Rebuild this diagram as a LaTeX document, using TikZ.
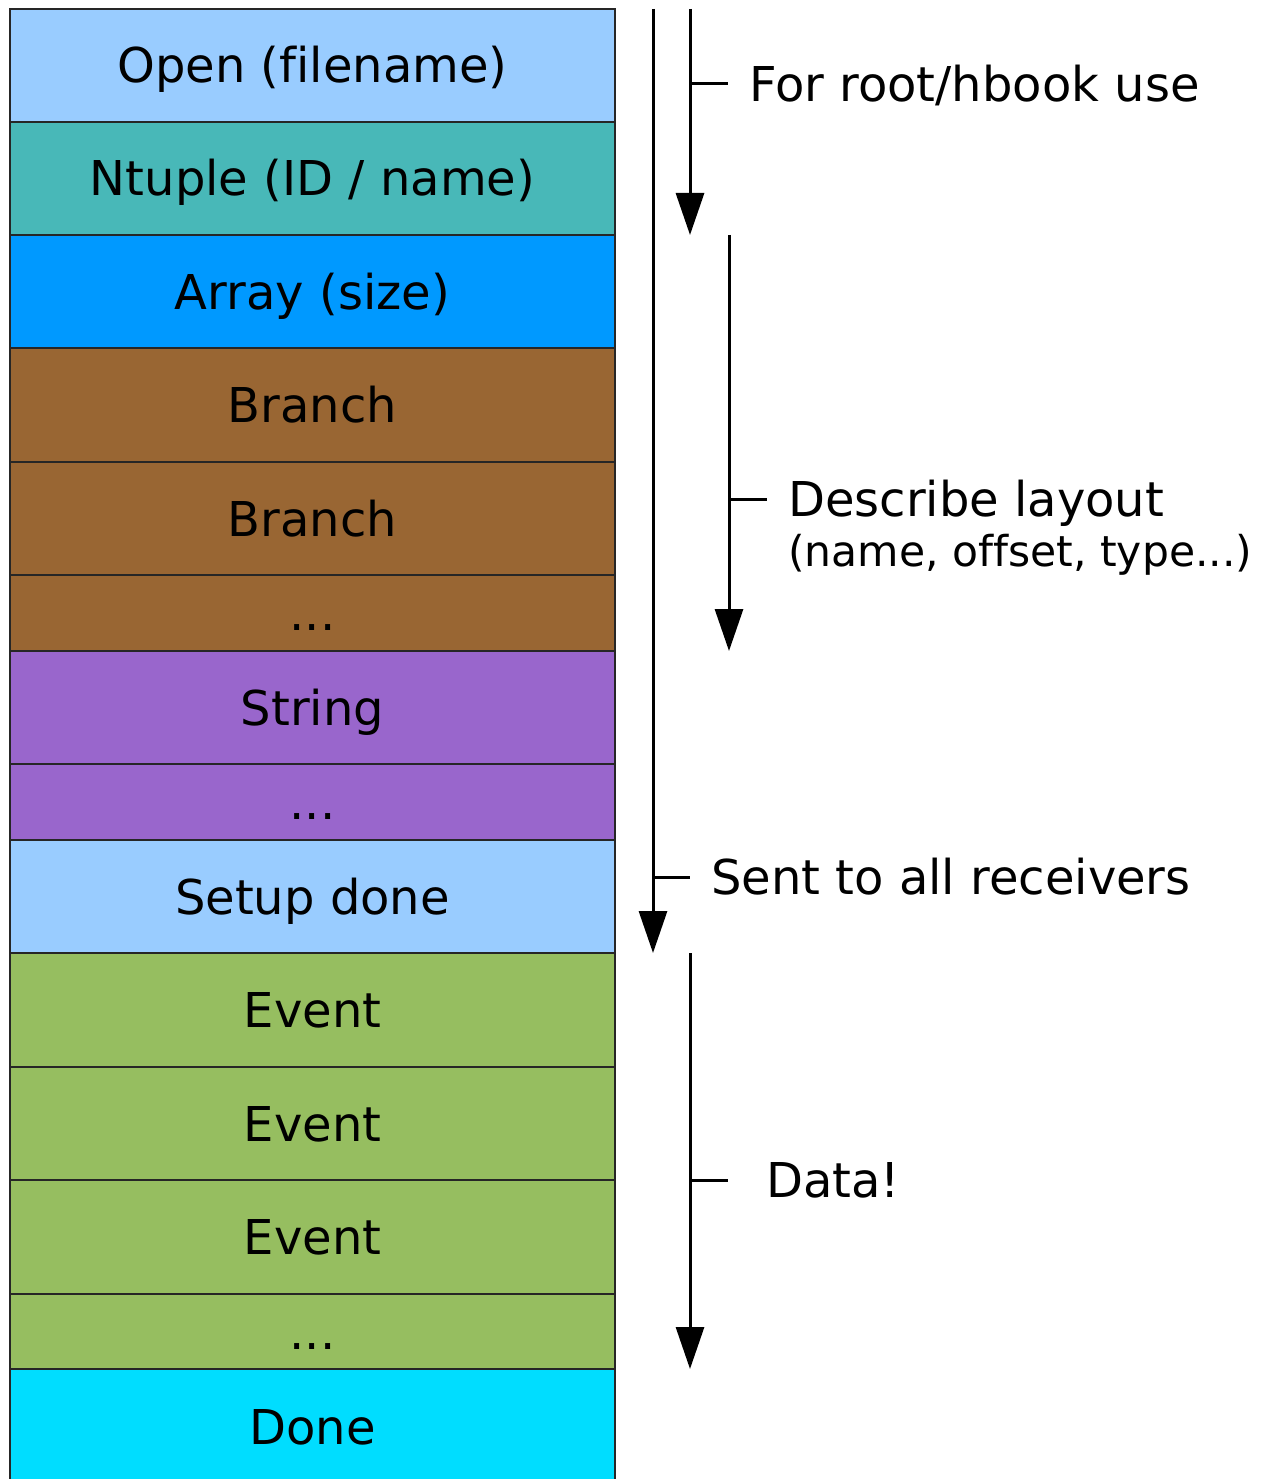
\documentclass[tikz,border=0pt]{standalone}
\usepackage{fontspec}
\setmainfont[Ligatures=NoCommon]{DejaVu Sans}
\usetikzlibrary{arrows.meta}

\definecolor{cellLightBlue}{HTML}{99CCFF}
\definecolor{cellTeal}{HTML}{48B8B8}
\definecolor{cellAzure}{HTML}{0099FF}
\definecolor{cellBrown}{HTML}{996633}
\definecolor{cellViolet}{HTML}{9966CC}
\definecolor{cellLeaf}{HTML}{96BE60}
\definecolor{cellCyan}{HTML}{00DDFF}

\tikzset{
  cell/.style={draw=black!85, line width=1.2pt, minimum width=605pt,
    inner sep=0pt, outer sep=0pt, text height=35pt, text depth=0pt,
    font=\fontsize{48}{58}\selectfont},
  flow/.style={line width=3pt, -{Triangle[width=28pt,length=42pt]}},
  tick/.style={line width=3pt},
  note/.style={anchor=base west, inner sep=0pt, font=\fontsize{48}{58}\selectfont},
  subnote/.style={anchor=base west, inner sep=0pt, font=\fontsize{42.5}{50}\selectfont}
}

% cell: name, top, bottom, colour, label
\newcommand{\cellrow}[5]{%
  \node[cell, fill=#4, minimum height={(#3-#2)*1pt}] (#1) at (312.5, {(#2+#3)/2}) {#5};}

\begin{document}
\begin{tikzpicture}[x=1pt, y=-1pt]
\useasboundingbox (0,0) rectangle (1268,1479);
\begin{scope}
\clip (0,0) rectangle (1268,1479);
\cellrow{open}{9}{122}{cellLightBlue}{Open (filename)}
\cellrow{ntuple}{122}{235}{cellTeal}{Ntuple (ID / name)}
\cellrow{array}{235}{348}{cellAzure}{Array (size)}
\cellrow{branchA}{348}{462}{cellBrown}{Branch}
\cellrow{branchB}{462}{575}{cellBrown}{Branch}
\cellrow{branchdots}{575}{651}{cellBrown}{...}
\cellrow{string}{651}{764}{cellViolet}{String}
\cellrow{stringdots}{764}{840}{cellViolet}{...}
\cellrow{setup}{840}{953}{cellLightBlue}{Setup done}
\cellrow{eventA}{953}{1067}{cellLeaf}{Event}
\cellrow{eventB}{1067}{1180}{cellLeaf}{Event}
\cellrow{eventC}{1180}{1294}{cellLeaf}{Event}
\cellrow{eventdots}{1294}{1369}{cellLeaf}{...}
\cellrow{done}{1369}{1484}{cellCyan}{Done}
\end{scope}

% long arrow: everything up to setup is sent to all receivers
\coordinate (sendTop) at (653,9);
\coordinate (sendEnd) at (653,953);
\coordinate (sendTick) at (653,877);
\draw[flow] (sendTop) -- (sendEnd);
\draw[tick] (sendTick) -- ++(37,0) coordinate (sendTickEnd);
\node[note] (sendText) at (711,894.5) {Sent to all receivers};

% root/hbook part
\coordinate (rootTop) at (690,9);
\coordinate (rootEnd) at (690,235);
\coordinate (rootTick) at (690,84);
\draw[flow] (rootTop) -- (rootEnd);
\draw[tick] (rootTick) -- ++(38,0) coordinate (rootTickEnd);
\node[note] (rootText) at (749,101.5) {For root/hbook use};

% layout description
\coordinate (layTop) at (729,235);
\coordinate (layEnd) at (729,651);
\coordinate (layTick) at (729,499);
\draw[flow] (layTop) -- (layEnd);
\draw[tick] (layTick) -- ++(38,0) coordinate (layTickEnd);
\node[note] (layText) at (788,516.5) {Describe layout};
\node[subnote] (layDetail) at (788,566) {(name, offset, type...)};

% data part
\coordinate (dataTop) at (690,953);
\coordinate (dataEnd) at (690,1369);
\coordinate (dataTick) at (690,1180);
\draw[flow] (dataTop) -- (dataEnd);
\draw[tick] (dataTick) -- ++(38,0) coordinate (dataTickEnd);
\node[note] (dataText) at (766,1197.5) {Data!};
\end{tikzpicture}
\end{document}
